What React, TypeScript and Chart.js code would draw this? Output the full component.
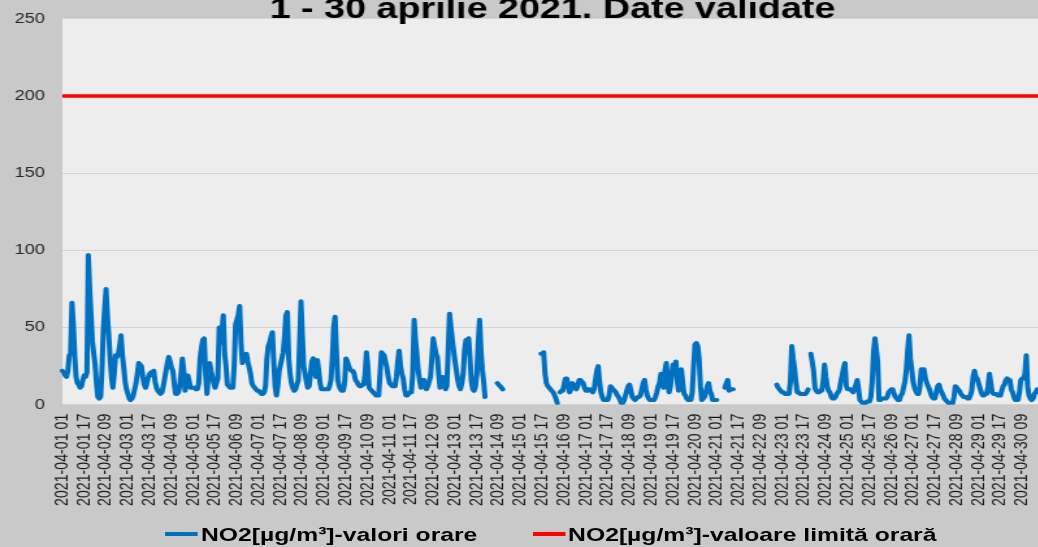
import { useEffect, useRef } from "react";
import { Chart, registerables } from "chart.js";

Chart.register(...registerables);

// ---------- data ----------
const titleText = "1 - 30 aprilie 2021. Date validate";
const seriesLabel = "NO2[µg/m³]-valori orare";
const limitLabel = "NO2[µg/m³]-valoare limită orară";

const dayLabels = Array.from({ length: 30 }, (_, d) => `2021-04-${String(d + 1).padStart(2, "0")}`);
const hourLabels = Array.from({ length: 24 }, (_, h) => String(h + 1).padStart(2, "0"));
const categories = dayLabels.flatMap((d) => hourLabels.map((h) => `${d} ${h}`));

const tickEvery = 16;
const yMin = 0;
const yMax = 250;
const yStep = 50;
const limitValue = 200;

// hourly NO2 values, one row per day (hours 01..24)
const no2Hourly: (number | null)[] = [
  22, 21, 19, 18, 22, 32, 33, 66, 52, 32, 18, 14, 13, 11, 12, 16, 19, 18, 21, 97, 75, 58, 41, 33,
  26, 14, 5, 4, 5, 22, 48, 62, 75, 58, 45, 30, 18, 11, 20, 32, 31, 33, 38, 45, 32, 24, 15, 10,
  7, 4, 3, 4, 6, 10, 14, 20, 27, 26, 25, 18, 13, 11, 14, 18, 20, 21, 19, 22, 15, 11, 9, 8,
  7, 8, 12, 17, 22, 27, 31, 28, 24, 22, 14, 7, 7, 8, 12, 20, 30, 22, 9, 14, 19, 15, 11, 11,
  11, 11, 10, 10, 14, 30, 37, 42, 43, 20, 7, 18, 27, 22, 18, 14, 11, 14, 17, 50, 40, 48, 58, 33,
  25, 13, 12, 11, 11, 11, 25, 52, 55, 58, 64, 40, 27, 29, 31, 33, 28, 24, 20, 14, 12, 11, 10, 9,
  9, 8, 7, 7, 8, 12, 30, 38, 40, 44, 47, 28, 12, 6, 12, 22, 26, 30, 34, 45, 58, 60, 30, 20,
  14, 11, 9, 10, 13, 16, 40, 67, 45, 25, 20, 15, 11, 12, 20, 28, 30, 24, 18, 29, 22, 14, 10, 10,
  10, 10, 10, 10, 12, 16, 30, 50, 57, 35, 16, 12, 10, 9, 9, 14, 30, 28, 25, 23, 22, 22, 20, 16,
  15, 13, 12, 12, 13, 13, 20, 34, 25, 11, 10, 9, 8, 7, 6, 6, 6, 20, 34, 33, 32, 28, 24, 18,
  14, 13, 12, 12, 12, 18, 28, 35, 25, 20, 17, 10, 6, 6, 7, 8, 8, 20, 55, 42, 33, 22, 16, 11,
  14, 16, 12, 10, 12, 15, 18, 30, 43, 38, 33, 31, 20, 11, 14, 18, 14, 10, 12, 35, 59, 50, 42, 35,
  28, 22, 16, 12, 10, 14, 20, 35, 42, 38, 43, 30, 15, 10, 9, 12, 20, 40, 55, 35, 23, 15, 5, null,
  null, null, null, null, null, null, null, 14, 13, 12, 11, 10, null, null, null, null, null, null, null, null, null, null, null, null,
  null, null, null, null, null, null, null, null, null, null, null, null, null, null, null, 33, 33, 34, 20, 14, 12, 11, 10, 9,
  8, 6, 4, 1, null, 8, 9, 9, 13, 17, 17, 12, 8, 10, 14, 13, 11, 10, 12, 16, 16, 15, 14, 11,
  9, 9, 10, 10, 9, 8, 10, 16, 22, 25, 15, 8, 5, 3, 3, 3, 3, 6, 12, 11, 10, 9, 8, 6,
  5, 3, 1, 1, 3, 6, 9, 12, 13, 9, 5, 4, 3, 4, 5, 5, 6, 10, 14, 16, 10, 6, 4, 3,
  3, 3, 3, 5, 8, 12, 14, 20, 13, 11, 22, 27, 14, 8, 12, 20, 26, 25, 28, 15, 9, 15, 23, 14,
  7, 6, 4, 3, 3, 3, 8, 25, 39, 40, 38, 30, 12, 3, 4, 5, 8, 12, 14, 9, 7, 3, 3, 3,
  3, null, null, null, null, null, 11, 14, 16, 9, 10, 10, 10, null, null, null, null, null, null, null, null, null, null, null,
  null, null, null, null, null, null, null, null, null, null, null, null, null, null, null, null, null, null, null, null, 13, 11, 10, 9,
  8, 8, 7, 7, 7, 7, 15, 38, 30, 24, 15, 8, 8, 7, 7, 7, 7, 7, 8, 10, null, 33, 28, 22,
  11, 9, 8, 8, 9, 9, 15, 26, 18, 12, 9, 8, 5, 4, 4, 5, 7, 8, 10, 15, 19, 24, 27, 12,
  10, 10, 10, 9, 8, 10, 13, 16, 10, 3, 2, 1, 1, 1, 2, 2, 2, 5, 15, 34, 43, 36, 28, 3,
  3, 4, 4, 4, 4, 5, 8, 9, 10, 10, 7, 5, 4, 3, 3, 6, 7, 11, 15, 22, 35, 45, 30, 23,
  15, 11, 9, 7, 7, 12, 23, 23, 23, 17, 14, 12, 10, 7, 5, 4, 4, 8, 12, 13, 10, 8, 6, 4,
  3, 2, 1, 1, 1, 1, 5, 12, 11, 10, 9, 7, 6, 5, 5, 5, 4, 4, 6, 9, 18, 22, 18, 17,
  14, 11, 8, 6, 6, 7, 7, 12, 20, 14, 8, 7, 7, 7, 6, 6, 6, 9, 12, 13, 16, 17, 16, 16,
  10, 8, 5, 3, 3, 3, 8, 16, 17, 17, 20, 32, 12, 6, 4, 3, 4, 7, 8, 10, 9, 8, 7, 6,
];

const limitSeries = categories.map(() => limitValue);

// ---------- look ----------
const FONT = "'Liberation Sans', Arial, Helvetica, sans-serif";
const STRETCH = 1.3;
const W = 820;
const H = 553;
const OFF = 6;
const BLUE = "#0070c0";
const RED = "#ff0000";

const plotBg = {
  id: "plotBg",
  beforeDraw(chart: any) {
    const { ctx, chartArea } = chart;
    if (!chartArea) return;
    ctx.save();
    ctx.fillStyle = "#ededed";
    ctx.fillRect(chartArea.left, chartArea.top, chartArea.right - chartArea.left, chartArea.bottom - chartArea.top);
    ctx.restore();
  },
};

export default function App() {
  const canvasRef = useRef<HTMLCanvasElement | null>(null);

  useEffect(() => {
    if (!canvasRef.current) return;
    const chart = new Chart(canvasRef.current, {
      type: "line",
      data: {
        labels: categories,
        datasets: [
          {
            label: seriesLabel,
            data: no2Hourly,
            borderColor: BLUE,
            backgroundColor: BLUE,
            borderWidth: 4,
            pointRadius: 0,
            tension: 0,
            spanGaps: false,
            borderJoinStyle: "round",
            borderCapStyle: "round",
          },
          {
            label: limitLabel,
            data: limitSeries,
            borderColor: RED,
            backgroundColor: RED,
            borderWidth: 3.5,
            pointRadius: 0,
            tension: 0,
          },
        ],
      },
      options: {
        animation: false,
        responsive: false,
        devicePixelRatio: 1,
        events: [],
        layout: { padding: { left: 11, right: 18, top: 0, bottom: 32 } },
        plugins: {
          legend: { display: false },
          tooltip: { enabled: false },
          title: {
            display: true,
            text: titleText,
            fullSize: false,
            color: "#000",
            font: { family: FONT, size: 29, weight: "bold", lineHeight: 0.619 },
            padding: { top: 7, bottom: 0 },
          },
        },
        scales: {
          x: {
            type: "category",
            grid: { display: false, drawTicks: false },
            border: { display: false },
            ticks: {
              autoSkip: false,
              maxRotation: 90,
              minRotation: 90,
              padding: 9,
              color: "#1a1a1a",
              font: { family: FONT, size: 14.2 },
              callback: (_v: any, idx: number) => (idx % tickEvery === 0 ? categories[idx] : null),
            },
          },
          y: {
            min: yMin,
            max: yMax,
            afterFit: (scale: any) => {
              scale.width = 37;
            },
            grid: { color: "#d3d3d3", lineWidth: 1, drawTicks: false },
            border: { display: false },
            ticks: {
              stepSize: yStep,
              padding: 13.5,
              color: "#262626",
              font: { family: FONT, size: 14 },
            },
          },
        },
      },
      plugins: [plotBg],
    } as any);
    return () => chart.destroy();
  }, []);

  const legendText: React.CSSProperties = {
    position: "absolute",
    top: 531 + OFF - 6,
    fontFamily: FONT,
    fontWeight: "bold",
    fontSize: 19,
    lineHeight: "19px",
    color: "#000",
    whiteSpace: "nowrap",
  };

  return (
    <div
      style={{
        position: "fixed",
        left: 0,
        top: 0,
        width: 1038,
        height: 547,
        overflow: "hidden",
        background: "#c9c9c9",
      }}
    >
      <div
        style={{
          position: "absolute",
          left: 0,
          top: -OFF,
          width: W,
          height: H,
          transform: `scaleX(${STRETCH})`,
          transformOrigin: "0 0",
        }}
      >
        <canvas
          ref={canvasRef}
          width={W}
          height={H}
          style={{ position: "absolute", left: 0, top: 0, width: W, height: H, display: "block" }}
        />
        <div style={{ position: "absolute", left: 127, top: 534 + OFF - 2, width: 25.4, height: 4, background: BLUE }} />
        <div style={{ ...legendText, left: 154.6 }}>{seriesLabel}</div>
        <div style={{ position: "absolute", left: 410, top: 534 + OFF - 2, width: 25.4, height: 4, background: RED }} />
        <div style={{ ...legendText, left: 437 }}>{limitLabel}</div>
      </div>
    </div>
  );
}
